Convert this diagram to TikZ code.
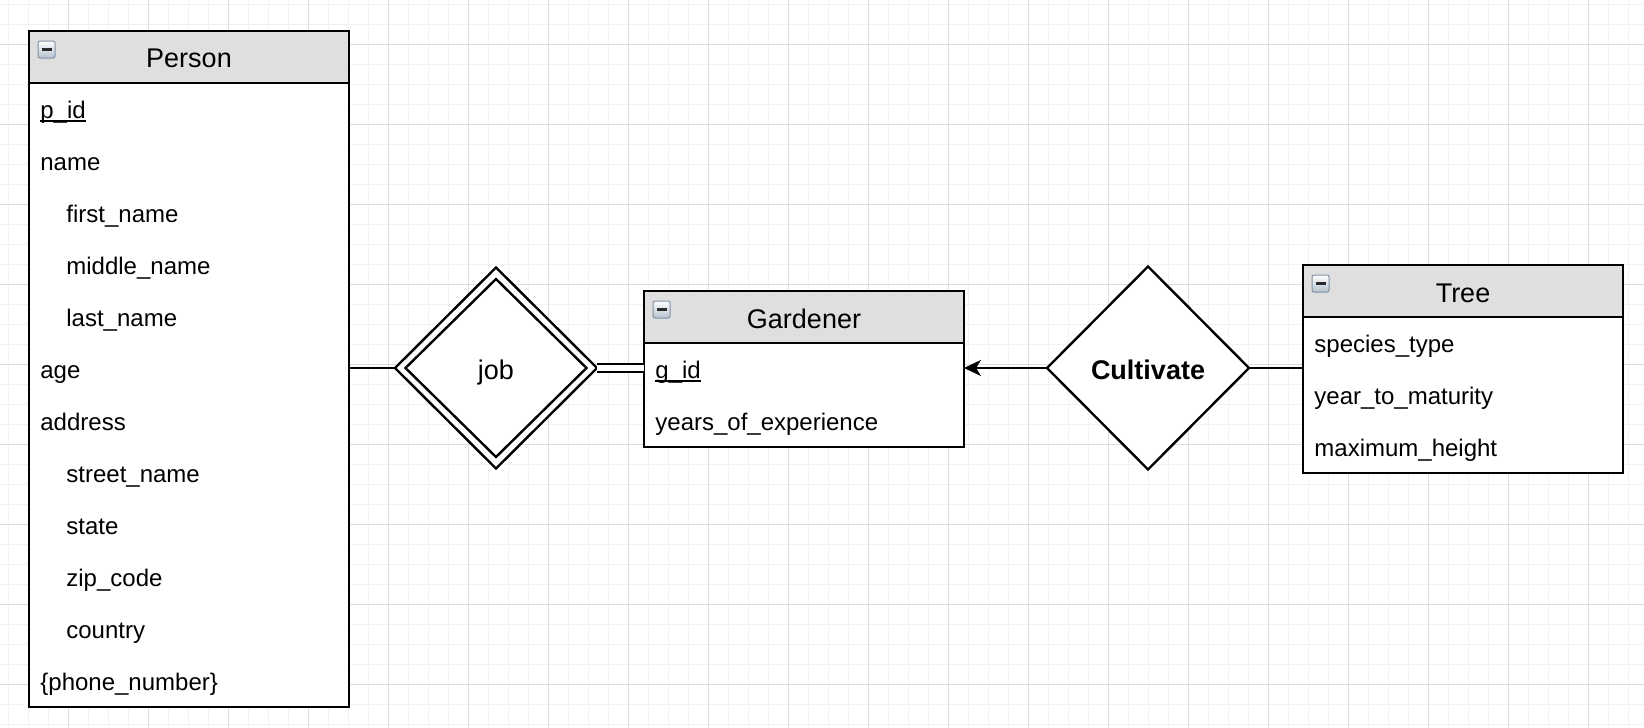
\documentclass[tikz,border=0pt]{standalone}
\usepackage{fontspec}
\setmainfont{Liberation Sans}
\usetikzlibrary{shapes.geometric,arrows.meta,calc}

\definecolor{gridminor}{HTML}{F2F2F2}
\definecolor{gridmajor}{HTML}{DDDDDD}
\definecolor{headfill}{HTML}{DFDFDF}
\definecolor{iconedge}{HTML}{7F91A4}
\definecolor{iconlow}{HTML}{B4C1CE}
\definecolor{icondark}{HTML}{2B2B2B}

\tikzset{
  entbox/.style={rectangle, draw=black, line width=1pt, inner sep=0pt, outer sep=0pt,
                 anchor=north west, minimum width=160pt},
  enthead/.style={entbox, fill=headfill, minimum height=26pt,
                 font=\fontsize{13.5}{16}\selectfont, text height=11pt, text depth=0pt},
  entbody/.style={entbox, fill=white},
  rowtxt/.style={anchor=base west, inner sep=0pt, font=\fontsize{12}{14}\selectfont},
  relbox/.style={diamond, draw=black, line width=1.2pt, inner sep=0pt, outer sep=0pt,
                 font=\fontsize{13.5}{16}\selectfont, text height=11pt, text depth=0pt},
  conn/.style={draw=black, line width=1pt},
  pkline/.style={draw=black, line width=0.65pt},
  iconbox/.style={draw=iconedge, line width=0.5pt, rounded corners=1pt,
                  top color=white, bottom color=iconlow},
}

\newcommand\erminus[2]{%
  \draw[iconbox] (#1+9,#2+10) rectangle ++(17,17);
  \fill[icondark] (#1+12.5,#2+17.2) rectangle ++(10,2.7);
}

\begin{document}
\begin{tikzpicture}[x=0.5pt,y=-0.5pt]
\useasboundingbox (0,0) rectangle (1644,728);
\fill[white] (0,0) rectangle (1644,728);

% background grid
\foreach \k in {0,...,82} \draw[gridminor, line width=0.5pt] ({8.3+20*\k},0) -- ({8.3+20*\k},728);
\foreach \k in {0,...,36} \draw[gridminor, line width=0.5pt] (0,{4.3+20*\k}) -- (1644,{4.3+20*\k});
\foreach \k in {0,...,19} \draw[gridmajor, line width=0.5pt] ({68.3+80*\k},0) -- ({68.3+80*\k},728);
\foreach \k in {0,...,8} \draw[gridmajor, line width=0.5pt] (0,{44.3+80*\k}) -- (1644,{44.3+80*\k});

% ---------- Person ----------
\node[enthead] (personhead) at (29,31) {Person};
\node[entbody, minimum height=312pt] (personbody) at (29,83) {};
\erminus{29}{31}
\node[rowtxt] (pid)   at (40,118) {p\_id};
\node[rowtxt] (pname) at (40,170) {name};
\node[rowtxt] (pfn)   at (66,222) {first\_name};
\node[rowtxt] (pmn)   at (66,274) {middle\_name};
\node[rowtxt] (pln)   at (66,326) {last\_name};
\node[rowtxt] (page)  at (40,378) {age};
\node[rowtxt] (paddr) at (40,430) {address};
\node[rowtxt] (pst)   at (66,482) {street\_name};
\node[rowtxt] (pstate) at (66,534) {state};
\node[rowtxt] (pzip)  at (66,586) {zip\_code};
\node[rowtxt] (pcty)  at (66,638) {country};
\node[rowtxt] (pphone) at (40,690) {\{phone\_number\}};
\draw[pkline] ([yshift=-1.5pt]pid.base west) -- ([yshift=-1.5pt]pid.base east);

% ---------- Gardener ----------
\node[enthead] (gardhead) at (644,291) {Gardener};
\node[entbody, minimum height=52pt] (gardbody) at (644,343) {};
\erminus{644}{291}
\node[rowtxt] (gid)  at (655,378) {g\_id};
\node[rowtxt] (gyrs) at (655,430) {years\_of\_experience};
\draw[pkline] ([yshift=-1.5pt]gid.base west) -- ([yshift=-1.5pt]gid.base east);

% ---------- Tree ----------
\node[enthead] (treehead) at (1303,265) {Tree};
\node[entbody, minimum height=78pt] (treebody) at (1303,317) {};
\erminus{1303}{265}
\node[rowtxt] (tsp)  at (1314,352) {species\_type};
\node[rowtxt] (tyr)  at (1314,404) {year\_to\_maturity};
\node[rowtxt] (tmax) at (1314,456) {maximum\_height};

% ---------- Relationships ----------
\node[relbox, fill=white, minimum width=101pt, minimum height=100.5pt] (job) at (496,368) {job};
\node[relbox, minimum width=90.5pt, minimum height=89pt] (jobin) at (496,368) {};
\node[relbox, fill=white, minimum width=101pt, minimum height=101.5pt,
      font=\fontsize{13.5}{16}\selectfont\bfseries] (cult) at (1148,368) {Cultivate};

% ---------- Connectors ----------
\draw[conn] (job.west) -- (job.west -| personbody.east);
\draw[conn, double=white, double distance=2.85pt] (job.east) -- (job.east -| gardbody.west);
\draw[conn, -{Stealth[length=8.5pt, width=8pt, inset=2.5pt]}] (cult.west) -- (cult.west -| gardbody.east);
\draw[conn] (cult.east) -- (cult.east -| treebody.west);
\end{tikzpicture}
\end{document}
